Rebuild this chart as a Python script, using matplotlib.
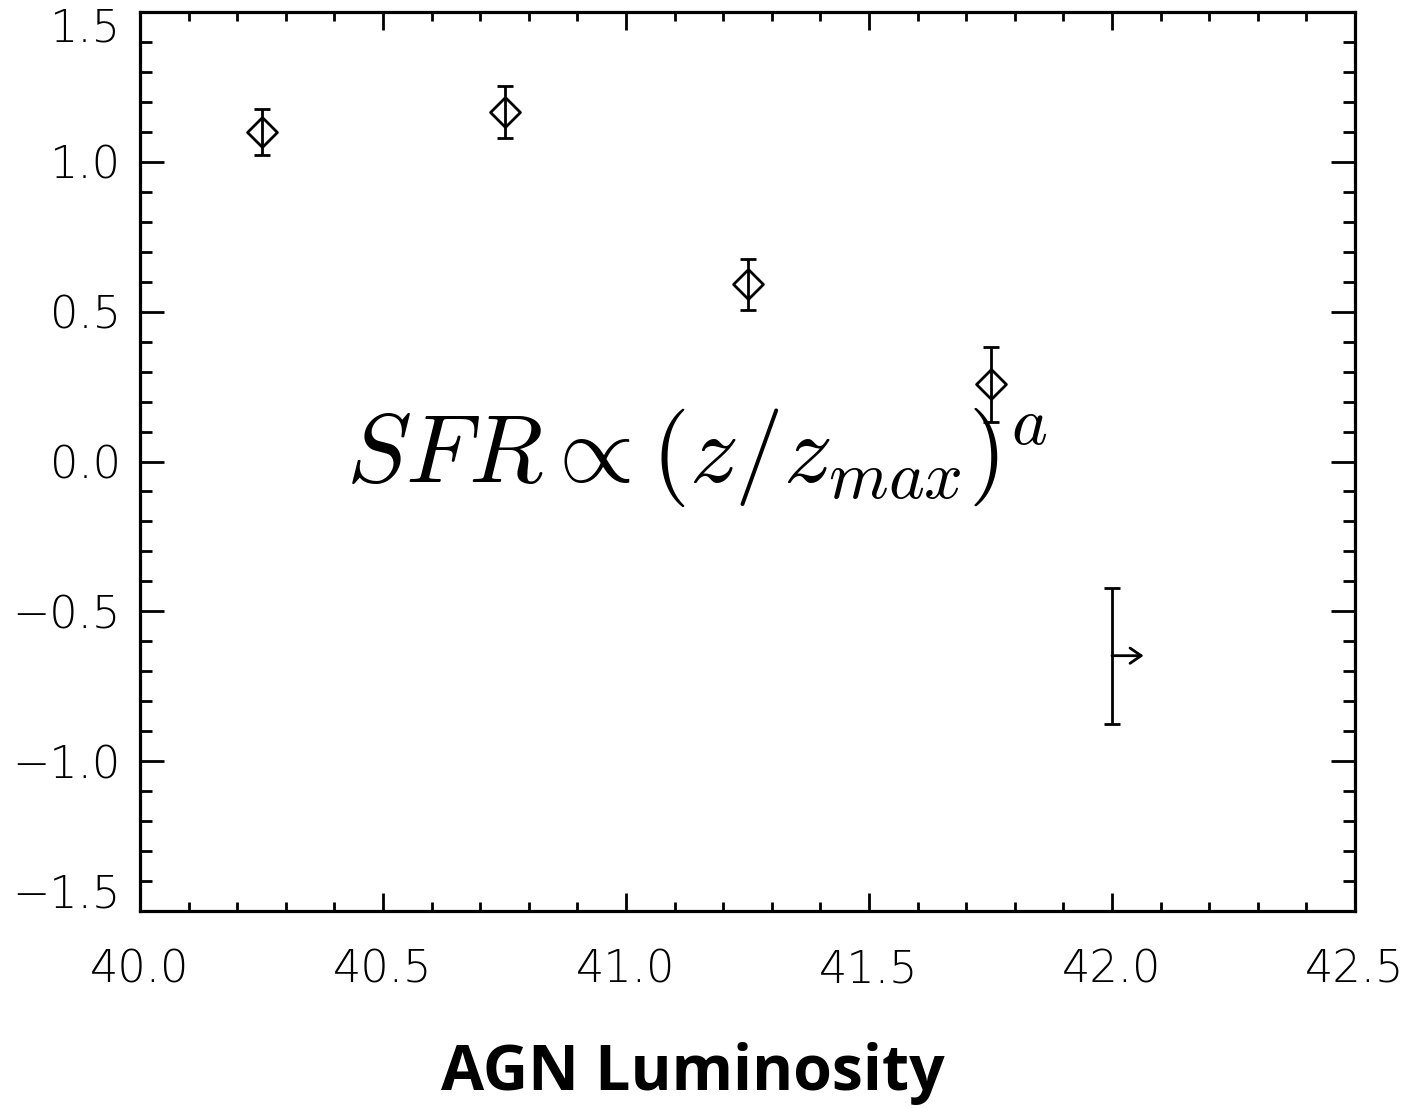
import matplotlib
matplotlib.use("Agg")
import matplotlib.pyplot as plt
from matplotlib.ticker import MultipleLocator
from matplotlib.transforms import ScaledTranslation
import numpy as np

# Data
lum = [40.25, 40.75, 41.25, 41.75]
sfr_exp = [1.10, 1.165, 0.592, 0.258]
sfr_err = [0.076, 0.087, 0.085, 0.125]

limit_x = [42.0]
limit_y = [-0.648]
limit_err = [0.227]
arrow_len = 0.065

xlim = (40.0, 42.5)
ylim = (-1.5, 1.5)
xticks = [40.0, 40.5, 41.0, 41.5, 42.0, 42.5]
yticks = [-1.5, -1.0, -0.5, 0.0, 0.5, 1.0, 1.5]

fig = plt.figure(figsize=(14.11, 11.08), dpi=100)
ax = fig.add_axes([140/1411, 1-911/1108, (1355-140)/1411, (911-12)/1108])

diamond = [(0, 1), (1, 0), (0, -1), (-1, 0), (0, 1)]
ax.errorbar(lum, sfr_exp, yerr=sfr_err, fmt='none', ecolor='black',
            elinewidth=2.0, capsize=5.8, capthick=2.0, zorder=3)
ax.plot(lum, sfr_exp, linestyle='none', marker=diamond, markersize=21.5,
        markerfacecolor='none', markeredgecolor='black', markeredgewidth=2.0, zorder=4)

ax.errorbar(limit_x, limit_y, yerr=limit_err, fmt='none', ecolor='black',
            elinewidth=2.0, capsize=5.8, capthick=2.0)
for x0, y0 in zip(limit_x, limit_y):
    ax.annotate('', xy=(x0 + arrow_len, y0), xytext=(x0, y0),
                arrowprops=dict(arrowstyle='->,head_length=0.8,head_width=0.55',
                                lw=2.0, color='black', shrinkA=0, shrinkB=0))

ax.text(41.145, -0.07, r'$SFR\propto(z/z_{max})^a$', fontsize=70,
        ha='center', va='baseline', math_fontfamily='cm')

ax.set_xlim(*xlim)
ax.set_ylim(*ylim)
ax.set_xticks(xticks)
ax.set_yticks(yticks)
ax.xaxis.set_minor_locator(MultipleLocator(0.1))
ax.yaxis.set_minor_locator(MultipleLocator(0.1))
ax.set_xticklabels([f'{v:.1f}' for v in xticks])
ax.set_yticklabels([f'{v:.1f}'.replace('-', '\u2212') for v in yticks])

for s in ax.spines.values():
    s.set_linewidth(2.3)

ax.tick_params(axis='both', which='both', direction='in', top=True, right=True,
               width=2.0, color='black')
ax.tick_params(axis='x', which='major', length=13, pad=27, labelsize=32)
ax.tick_params(axis='x', which='minor', length=6.5)
ax.tick_params(axis='y', which='major', length=17, pad=14, labelsize=32)
ax.tick_params(axis='y', which='minor', length=8.5)

for lab in ax.get_xticklabels() + ax.get_yticklabels():
    lab.set_fontfamily('DejaVu Sans')
    lab.set_fontweight('light')
ylabs = ax.get_yticklabels()
ylabs[0].set_va('bottom')
ylabs[-1].set_va('top')
ylabs[0].set_transform(ylabs[0].get_transform() + ScaledTranslation(0, -5/100, fig.dpi_scale_trans))
ylabs[-1].set_transform(ylabs[-1].get_transform() + ScaledTranslation(0, 4/100, fig.dpi_scale_trans))

fig.text(693/1411, 1-1090/1108, 'AGN Luminosity', fontsize=45, fontweight='bold',
         family='Open Sans', ha='center', va='baseline')

fig.savefig('out.png', dpi=100)
